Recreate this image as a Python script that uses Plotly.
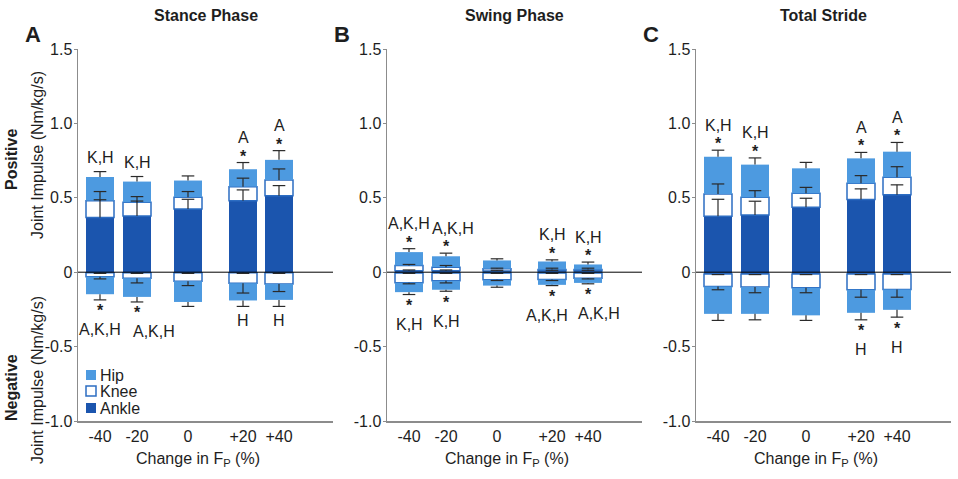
import plotly.graph_objects as go

# ---------------- data ----------------
categories = ["-40", "-20", "0", "+20", "+40"]
y_tick_vals = [-1.0, -0.5, 0.0, 0.5, 1.0, 1.5]
y_tick_text = ["-1.0", "-0.5", "0", "0.5", "1.0", "1.5"]
panel_titles = ["Stance Phase", "Swing Phase", "Total Stride"]
panel_letters = ["A", "B", "C"]
joint_names = ["Hip", "Knee", "Ankle"]

# A: Stance phase (segment values, Nm/kg/s)
stance_ankle_pos = [0.367, 0.378, 0.425, 0.481, 0.513]
stance_knee_pos = [0.114, 0.092, 0.079, 0.094, 0.107]
stance_hip_pos = [0.159, 0.139, 0.112, 0.117, 0.135]
stance_ankle_pos_sd = [0.120, 0.100, 0.065, 0.072, 0.069]
stance_knee_pos_sd = [0.061, 0.038, 0.038, 0.057, 0.074]
stance_hip_pos_sd = [0.036, 0.034, 0.031, 0.045, 0.062]
stance_ankle_neg = [-0.004, -0.004, -0.004, -0.004, -0.004]
stance_knee_neg = [-0.026, -0.036, -0.056, -0.070, -0.075]
stance_hip_neg = [-0.118, -0.126, -0.140, -0.116, -0.107]
stance_ankle_neg_sd = [0.004, 0.004, 0.004, 0.004, 0.004]
stance_knee_neg_sd = [0.015, 0.032, 0.030, 0.066, 0.051]
stance_hip_neg_sd = [0.038, 0.034, 0.030, 0.040, 0.044]
stance_sig_up = ["K,H", "K,H", "", "A", "A"]
stance_star_up = [False, False, False, True, True]
stance_sig_down = ["A,K,H", "A,K,H", "", "H", "H"]
stance_star_down = [True, True, False, False, False]

# B: Swing phase
swing_ankle_pos = [0.010, 0.010, 0.008, 0.008, 0.008]
swing_knee_pos = [0.035, 0.024, 0.015, 0.010, 0.010]
swing_hip_pos = [0.090, 0.073, 0.056, 0.054, 0.034]
swing_ankle_pos_sd = [0.005, 0.005, 0.005, 0.005, 0.005]
swing_knee_pos_sd = [0.007, 0.011, 0.004, 0.009, 0.009]
swing_hip_pos_sd = [0.023, 0.021, 0.011, 0.011, 0.016]
swing_ankle_neg = [-0.005, -0.005, -0.005, -0.005, -0.005]
swing_knee_neg = [-0.066, -0.053, -0.046, -0.044, -0.035]
swing_hip_neg = [-0.063, -0.060, -0.039, -0.036, -0.032]
swing_ankle_neg_sd = [0.003, 0.003, 0.003, 0.003, 0.003]
swing_knee_neg_sd = [0.007, 0.014, 0.005, 0.007, 0.005]
swing_hip_neg_sd = [0.016, 0.010, 0.011, 0.005, 0.006]
swing_sig_up = ["A,K,H", "A,K,H", "", "K,H", "K,H"]
swing_star_up = [True, True, False, True, True]
swing_sig_down = ["K,H", "K,H", "", "A,K,H", "A,K,H"]
swing_star_down = [True, True, False, True, True]

# C: Total stride
total_ankle_pos = [0.376, 0.385, 0.436, 0.488, 0.520]
total_knee_pos = [0.150, 0.118, 0.094, 0.109, 0.118]
total_hip_pos = [0.250, 0.220, 0.168, 0.168, 0.172]
total_ankle_pos_sd = [0.114, 0.092, 0.061, 0.072, 0.067]
total_knee_pos_sd = [0.067, 0.045, 0.040, 0.052, 0.071]
total_hip_pos_sd = [0.044, 0.045, 0.040, 0.040, 0.062]
total_ankle_neg = [-0.012, -0.012, -0.012, -0.012, -0.012]
total_knee_neg = [-0.084, -0.088, -0.093, -0.106, -0.104]
total_hip_neg = [-0.184, -0.180, -0.185, -0.155, -0.137]
total_ankle_neg_sd = [0.004, 0.004, 0.004, 0.004, 0.004]
total_knee_neg_sd = [0.022, 0.038, 0.033, 0.050, 0.052]
total_hip_neg_sd = [0.044, 0.040, 0.034, 0.047, 0.049]
total_sig_up = ["K,H", "K,H", "", "A", "A"]
total_star_up = [True, True, False, True, True]
total_sig_down = ["", "", "", "H", "H"]
total_star_down = [False, False, False, True, True]

panels = [
    dict(pos=[(stance_ankle_pos, stance_ankle_pos_sd), (stance_knee_pos, stance_knee_pos_sd), (stance_hip_pos, stance_hip_pos_sd)],
         neg=[(stance_ankle_neg, stance_ankle_neg_sd), (stance_knee_neg, stance_knee_neg_sd), (stance_hip_neg, stance_hip_neg_sd)],
         up=(stance_sig_up, stance_star_up), down=(stance_sig_down, stance_star_down)),
    dict(pos=[(swing_ankle_pos, swing_ankle_pos_sd), (swing_knee_pos, swing_knee_pos_sd), (swing_hip_pos, swing_hip_pos_sd)],
         neg=[(swing_ankle_neg, swing_ankle_neg_sd), (swing_knee_neg, swing_knee_neg_sd), (swing_hip_neg, swing_hip_neg_sd)],
         up=(swing_sig_up, swing_star_up), down=(swing_sig_down, swing_star_down)),
    dict(pos=[(total_ankle_pos, total_ankle_pos_sd), (total_knee_pos, total_knee_pos_sd), (total_hip_pos, total_hip_pos_sd)],
         neg=[(total_ankle_neg, total_ankle_neg_sd), (total_knee_neg, total_knee_neg_sd), (total_hip_neg, total_hip_neg_sd)],
         up=(total_sig_up, total_star_up), down=(total_sig_down, total_star_down)),
]

# ---------------- layout / style ----------------
W, H = 958, 479
L, R, T, B = 78, 7, 49, 58
PW, PH = W - L - R, H - T - B


def xp(p):
    return (p - L) / PW


def yp(p):
    return (H - B - p) / PH


panel_px = [(78, 333), (387, 642), (696, 951)]
slots = [22, 59, 110, 165, 201]
x_span = 255
bar_w = 28
# horizontal nudges (px) of significance labels, to keep neighbours apart
label_nudge_up = [[0, 0, 0, 0, 0], [0, 7, 0, 0, 0], [0, 0, 0, 0, 0]]
label_nudge_down = [[0, 17, 0, 0, 0], [0, 0, 0, -5, 11], [0, 0, 0, 0, 0]]

HIP = "#4d9ae0"
ANKLE = "#1b55ae"
KNEE_EDGE = "#2d6dc2"
ERR = "#2a2a2a"
AXIS = "#8c8c8c"
TXT = "#1e1e1e"
FONT = "Liberation Sans, Arial, Helvetica, sans-serif"

seg_styles = [
    dict(color=ANKLE, line=dict(width=0)),
    dict(color="white", line=dict(width=1.5, color=KNEE_EDGE)),
    dict(color=HIP, line=dict(width=0)),
]

fig = go.Figure()
annotations = []
shapes = []


def note(x, y, text, size=16, xanchor="center", **kw):
    d = dict(x=x, y=y, xref="paper", yref="paper", text=text, showarrow=False,
             xanchor=xanchor, yanchor="middle", borderpad=0,
             font=dict(size=size, color=TXT, family=FONT))
    d.update(kw)
    return d


for i, p in enumerate(panels):
    xa = "x" if i == 0 else f"x{i + 1}"
    ya = "y" if i == 0 else f"y{i + 1}"
    # bars
    for side in ("pos", "neg"):
        for k, (vals, sd) in enumerate(p[side]):
            fig.add_trace(go.Bar(x=slots, y=vals, width=bar_w, marker=seg_styles[k],
                                 xaxis=xa, yaxis=ya, showlegend=False, hoverinfo="skip"))
    # error bars (drawn above all segments)
    for side in ("pos", "neg"):
        cum = [0.0] * 5
        caps_all = []
        for k, (vals, sd) in enumerate(p[side]):
            cum = [c + v for c, v in zip(cum, vals)]
            if side == "pos":
                caps = [c + s for c, s in zip(cum, sd)]
                ey = dict(type="data", symmetric=False, array=[0] * 5, arrayminus=sd,
                          width=0, thickness=1.2, color=ERR)
            else:
                caps = [c - s for c, s in zip(cum, sd)]
                ey = dict(type="data", symmetric=False, array=sd, arrayminus=[0] * 5,
                          width=0, thickness=1.2, color=ERR)
            caps_all = caps
            fig.add_trace(go.Scatter(x=slots, y=caps, mode="markers", error_y=ey,
                                     marker=dict(symbol="line-ew", size=9, color=ERR,
                                                 line=dict(width=1.2, color=ERR)),
                                     xaxis=xa, yaxis=ya, showlegend=False, hoverinfo="skip"))
        # significance marks, relative to the outer (hip) cap
        labels, stars = p["up"] if side == "pos" else p["down"]
        nudges = label_nudge_up[i] if side == "pos" else label_nudge_down[i]
        sgn = 1 if side == "pos" else -1
        for j in range(5):
            if labels[j] == "" and not stars[j]:
                continue
            if stars[j]:
                annotations.append(dict(x=slots[j], y=caps_all[j], xref=xa, yref=ya, text="<b>*</b>",
                                        showarrow=False, xanchor="center", yanchor="middle", borderpad=0,
                                        yshift=(6.5 if sgn > 0 else -11),
                                        font=dict(size=16, color=TXT, family=FONT)))
            if labels[j]:
                off = (25 if sgn > 0 else 30) if stars[j] else 14
                annotations.append(dict(x=slots[j], y=caps_all[j], xref=xa, yref=ya, text=labels[j],
                                        showarrow=False, xanchor="center", yanchor="middle",
                                        yshift=sgn * off, xshift=nudges[j], borderpad=0,
                                        font=dict(size=16, color=TXT, family=FONT)))
    # zero line
    shapes.append(dict(type="line", xref=f"{xa} domain", x0=0, x1=1, yref=ya, y0=0, y1=0,
                       line=dict(color="black", width=1), layer="above"))
    # axes
    x0p, x1p = panel_px[i]
    fig.update_layout(**{
        ("xaxis" if i == 0 else f"xaxis{i + 1}"): dict(
            domain=[xp(x0p), xp(x1p)], range=[0, x_span], anchor=ya,
            tickvals=slots, ticktext=categories, showline=True, linecolor=AXIS, linewidth=1.5,
            ticks="", showgrid=False, zeroline=False, automargin=False,
            tickfont=dict(size=16, color=TXT, family=FONT)),
        ("yaxis" if i == 0 else f"yaxis{i + 1}"): dict(
            domain=[0, 1], range=[-1.0, 1.5], anchor=xa,
            tickvals=y_tick_vals, ticktext=y_tick_text, showline=True, linecolor=AXIS, linewidth=1.5,
            ticks="outside", ticklen=3, tickwidth=1, tickcolor=AXIS, showgrid=False, zeroline=False,
            ticklabelstandoff=-2, automargin=False,
            tickfont=dict(size=16, color=TXT, family=FONT)),
    })
    cx = (x0p + x1p) / 2
    annotations.append(note(xp(cx), yp(15), f"<b>{panel_titles[i]}</b>"))
    annotations.append(note(xp(x0p - 45), yp(34), f"<b>{panel_letters[i]}</b>", size=22))
    annotations.append(note(xp(cx - 8), yp(460), "Change in F<sub>P</sub> (%)"))

# y-axis labels
for txt, xc, yc, bold in [("Positive", 11, 160, True), ("Joint Impulse (Nm/kg/s)", 37, 155, False),
                          ("Negative", 11, 388, True), ("Joint Impulse (Nm/kg/s)", 37, 380, False)]:
    annotations.append(note(xp(xc), yp(yc), f"<b>{txt}</b>" if bold else txt, textangle=-90))

# legend (manual)
legend_fill = {"Hip": (HIP, HIP), "Knee": ("white", KNEE_EDGE), "Ankle": (ANKLE, ANKLE)}
for name, yc in zip(joint_names, [375, 391, 408]):
    fill, edge = legend_fill[name]
    shapes.append(dict(type="rect", xref="paper", yref="paper", x0=xp(86), x1=xp(96),
                       y0=yp(yc + 5), y1=yp(yc - 5), fillcolor=fill,
                       line=dict(color=edge, width=1.5 if name == "Knee" else 0)))
    annotations.append(note(xp(98.5), yp(yc), name, xanchor="left"))

fig.update_layout(
    width=W, height=H, margin=dict(l=L, r=R, t=T, b=B, autoexpand=False),
    barmode="relative", plot_bgcolor="white", paper_bgcolor="white",
    showlegend=False, annotations=annotations, shapes=shapes,
    font=dict(family=FONT, color=TXT, size=16),
)

fig.write_html(
    "out.html", config={"displayModeBar": False, "staticPlot": True},
    post_script=(
        "document.body.style.margin='0';document.body.style.overflow='hidden';"
        "document.querySelectorAll('svg text').forEach(function(t){"
        "if(!t.textContent.trim()){t.remove();}});"
    ),
)
